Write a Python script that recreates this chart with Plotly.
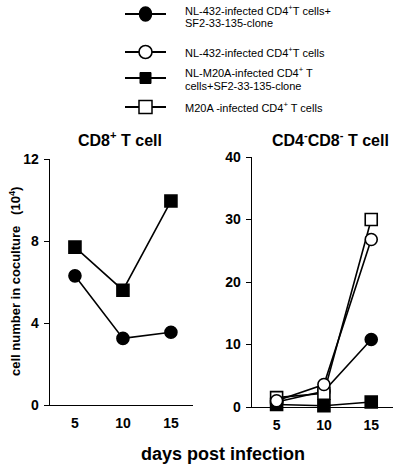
import plotly.graph_objects as go

days = [5, 10, 15]

# CD8+ T cell panel
cd8_filled_circle = [6.3, 3.25, 3.55]   # NL-432 + clone
cd8_filled_square = [7.7, 5.6, 9.95]    # NL-M20A + clone

# CD4-CD8- T cell panel
dn_filled_circle = [0.8, 2.5, 10.8]
dn_open_circle = [1.0, 3.6, 26.8]
dn_filled_square = [0.4, 0.2, 0.8]
dn_open_square = [1.5, 2.2, 30.0]

left_yticks = [0, 4, 8, 12]
right_yticks = [0, 10, 20, 30, 40]

legend_labels = [
    ["NL-432-infected CD4<sup>+</sup>T cells+", "SF2-33-135-clone"],
    ["NL-432-infected CD4<sup>+</sup>T cells"],
    ["NL-M20A-infected CD4<sup>+</sup> T", "cells+SF2-33-135-clone"],
    ["M20A -infected CD4<sup>+</sup> T cells"],
]

W, H = 404, 471
FONT = "Liberation Sans, Arial, sans-serif"

def px(x):
    return x / W

def py(y):
    return 1 - y / H

fig = go.Figure()

line = dict(color="black", width=1.6)

def add(x, y, symbol, size, filled, xa, ya):
    fig.add_trace(go.Scatter(
        x=x, y=y, mode="lines+markers", xaxis=xa, yaxis=ya,
        line=line, hoverinfo="skip",
        marker=dict(symbol=symbol, size=size,
                    color="black" if filled else "white",
                    line=dict(color="black", width=1.6)),
        showlegend=False, cliponaxis=False))

add(days, cd8_filled_circle, "circle", 12, True, "x", "y")
add(days, cd8_filled_square, "square", 12, True, "x", "y")

add(days, dn_filled_square, "square", 12, True, "x2", "y2")
add(days, dn_filled_circle, "circle", 12, True, "x2", "y2")
add(days, dn_open_square, "square", 12, False, "x2", "y2")
add(days, dn_open_circle, "circle", 12, False, "x2", "y2")

axfont = dict(family=FONT, size=14, color="black")

xcommon = dict(range=[2.4, 17.3], tickvals=days, ticktext=["<b>%d</b>" % d for d in days],
               ticks="", showgrid=False, automargin=False,
               zeroline=False, showline=True, linecolor="black", linewidth=1.3,
               tickfont=axfont, fixedrange=True, ticklabelstandoff=5)
ycommon = dict(showgrid=False, zeroline=False, showline=True, linecolor="black",
               linewidth=1.3, ticks="outside", ticklen=5, tickcolor="black", automargin=False,
               tickwidth=1, tickfont=axfont, fixedrange=True, ticklabelstandoff=2)

fig.update_layout(
    template="none",
    width=W, height=H,
    margin=dict(l=0, r=0, t=0, b=0, pad=0, autoexpand=False),
    paper_bgcolor="white", plot_bgcolor="white",
    xaxis=dict(domain=[px(50), px(193)], anchor="y", **xcommon),
    yaxis=dict(domain=[py(405), py(159)], anchor="x", range=[0, 12],
               tickvals=left_yticks, ticktext=["<b>%d</b>" % v for v in left_yticks], **ycommon),
    xaxis2=dict(domain=[px(252), px(393)], anchor="y2", **xcommon),
    yaxis2=dict(domain=[py(407), py(157)], anchor="x2", range=[0, 40],
                tickvals=right_yticks, ticktext=["<b>%d</b>" % v for v in right_yticks], **ycommon),
    showlegend=False,
    hovermode=False,
)

ann = []
def note(text, x, y, size, xanchor="center", angle=0):
    ann.append(dict(text=text, x=px(x), y=py(y), xref="paper", yref="paper",
                    showarrow=False, xanchor=xanchor, yanchor="middle", textangle=angle,
                    font=dict(family=FONT, size=size, color="black")))

note("<b>CD8<sup>+</sup> T cell</b>", 120, 139, 16)
note("<b>CD4<sup>-</sup>CD8<sup>-</sup> T cell</b>", 330, 139, 16)
note("<b>cell number in coculture   (10<sup>4</sup>)</b>", 15, 282, 13, angle=-90)
note("<b>days post infection</b>", 223, 454, 18)

legend_rows_y = [[10, 23], [52], [72, 86], [107]]
legend_sym_y = [14, 52, 78, 107]
shapes = []
for i, lab in enumerate(legend_labels):
    for j, t in enumerate(lab):
        note(t, 183, legend_rows_y[i][j], 11, xanchor="left")
    yc = legend_sym_y[i]
    shapes.append(dict(type="line", xref="paper", yref="paper", x0=px(125), x1=px(166),
                       y0=py(yc), y1=py(yc), line=dict(color="black", width=1.8)))
cx = 145.5
shapes.append(dict(type="circle", xref="paper", yref="paper", x0=px(cx - 6), x1=px(cx + 6),
                   y0=py(14 + 7), y1=py(14 - 7), fillcolor="black", line=dict(color="black", width=1.5)))
shapes.append(dict(type="circle", xref="paper", yref="paper", x0=px(cx - 6.5), x1=px(cx + 6.5),
                   y0=py(52 + 6.5), y1=py(52 - 6.5), fillcolor="white", line=dict(color="black", width=1.6)))
shapes.append(dict(type="rect", xref="paper", yref="paper", x0=px(cx - 5.5), x1=px(cx + 5.5),
                   y0=py(78 + 5.5), y1=py(78 - 5.5), fillcolor="black", line=dict(color="black", width=1)))
shapes.append(dict(type="rect", xref="paper", yref="paper", x0=px(cx - 6.5), x1=px(cx + 6.5),
                   y0=py(107 + 6.5), y1=py(107 - 6.5), fillcolor="white", line=dict(color="black", width=1.5)))

fig.update_layout(annotations=ann, shapes=shapes)

fig.write_html("out.html", config={"displayModeBar": False, "staticPlot": True},
               post_script="document.body.style.margin='0';document.body.style.overflow='hidden';")
